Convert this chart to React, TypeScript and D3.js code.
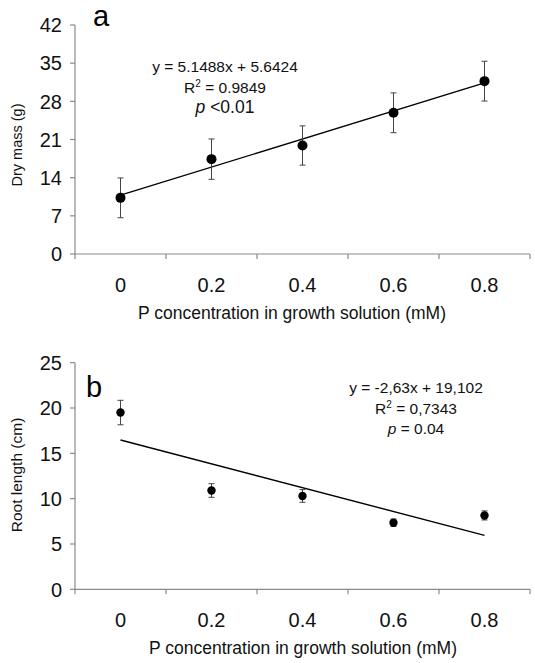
import React from "react";
import * as d3 from "d3";

const categories = ["0", "0.2", "0.4", "0.6", "0.8"];
const dryMass = [10.3, 17.4, 19.9, 25.9, 31.7];
const dryMassErr = [3.65, 3.7, 3.6, 3.65, 3.65];
const rootLength = [19.5, 10.9, 10.3, 7.35, 8.15];
const rootLengthErr = [1.35, 0.75, 0.7, 0.4, 0.5];
const yTicksA = [0, 7, 14, 21, 28, 35, 42];
const yTicksB = [0, 5, 10, 15, 20, 25];
const fitA = { slope: 5.1488, intercept: 5.6424 };
const fitB = { slope: -2.63, intercept: 19.102 };

const FONT = "'Liberation Sans', Arial, sans-serif";
const AXIS = "#8a8a8a";

type PanelProps = {
  label: string;
  values: number[];
  errs: number[];
  yTicks: number[];
  yMax: number;
  top: number;
  bottom: number;
  fit: { slope: number; intercept: number };
  yTitle: string;
  yTitleY: number;
  yTitleSize: number;
  xTitleX: number;
  eqX: number;
  eqY: number;
  eqLines: [string, string, string];
  labelX: number;
  labelY: number;
  r: number;
  pSep: string;
  pSize: number;
};

function Panel(p: PanelProps) {
  const x = d3.scaleBand<string>().domain(categories).range([75, 530]).padding(0);
  const cx = (c: string) => (x(c) as number) + x.bandwidth() / 2;
  const y = d3.scaleLinear().domain([0, p.yMax]).range([p.bottom, p.top]);
  const boundaries = [...categories.map((c) => x(c) as number), 530];
  const line = d3
    .line<number>()
    .x((i) => cx(categories[i]))
    .y((i) => y(p.fit.slope * (i + 1) + p.fit.intercept));
  const idx = [0, categories.length - 1];
  return (
    <g fontFamily={FONT}>
      <line x1={75} x2={75} y1={p.top} y2={p.bottom} stroke={AXIS} strokeWidth={1.2} />
      {p.yTicks.map((t) => (
        <g key={t}>
          <line x1={70} x2={75} y1={y(t)} y2={y(t)} stroke={AXIS} strokeWidth={1.2} />
          <text x={62} y={y(t)} dy="0.36em" textAnchor="end" fontSize={20} fill="#111">
            {t}
          </text>
        </g>
      ))}
      <line x1={75} x2={530} y1={p.bottom} y2={p.bottom} stroke={AXIS} strokeWidth={1.2} />
      {boundaries.map((b, i) => (
        <line key={i} x1={b} x2={b} y1={p.bottom} y2={p.bottom + 5} stroke={AXIS} strokeWidth={1.2} />
      ))}
      {categories.map((c) => (
        <text key={c} x={cx(c)} y={p.bottom + 38} textAnchor="middle" fontSize={20} fill="#111">
          {c}
        </text>
      ))}
      <text x={p.xTitleX} y={p.bottom + 65} textAnchor="middle" fontSize={17.5} fill="#111">
        P concentration in growth solution (mM)
      </text>
      <text
        transform={`translate(22,${p.yTitleY}) rotate(-90)`}
        textAnchor="middle"
        fontSize={p.yTitleSize}
        fill="#111"
      >
        {p.yTitle}
      </text>
      <text x={p.labelX} y={p.labelY} fontSize={29} fill="#000">
        {p.label}
      </text>
      <path d={line(idx) as string} fill="none" stroke="#000" strokeWidth={1.4} />
      {categories.map((c, i) => {
        const xx = cx(c);
        const y1 = y(p.values[i] + p.errs[i]);
        const y2 = y(p.values[i] - p.errs[i]);
        return (
          <g key={c} stroke="#444" strokeWidth={1}>
            <line x1={xx} x2={xx} y1={y1} y2={y2} />
            <line x1={xx - 3} x2={xx + 3} y1={y1} y2={y1} />
            <line x1={xx - 3} x2={xx + 3} y1={y2} y2={y2} />
          </g>
        );
      })}
      {categories.map((c, i) => (
        <circle key={c} cx={cx(c)} cy={y(p.values[i])} r={p.r} fill="#000" />
      ))}
      <g fontSize={15.5} fill="#111" textAnchor="middle">
        <text x={p.eqX} y={p.eqY}>{p.eqLines[0]}</text>
        <text x={p.eqX} y={p.eqY + 21}>
          R<tspan fontSize={10} dy={-6}>2</tspan>
          <tspan dy={6}>{" = " + p.eqLines[1]}</tspan>
        </text>
        <text x={p.eqX} y={p.eqY + 41} fontSize={p.pSize}>
          <tspan fontStyle="italic">p</tspan>
          {p.pSep + p.eqLines[2]}
        </text>
      </g>
    </g>
  );
}

export default function App() {
  return (
    <svg
      width={535}
      height={663}
      style={{ position: "absolute", left: 0, top: 0, background: "#fff" }}
    >
      <rect width={535} height={663} fill="#fff" />
      <Panel
        label="a"
        values={dryMass}
        errs={dryMassErr}
        yTicks={yTicksA}
        yMax={42}
        top={25}
        bottom={254}
        fit={fitA}
        yTitle="Dry mass (g)"
        yTitleY={145}
        yTitleSize={14.5}
        xTitleX={292}
        eqX={225}
        eqY={72}
        eqLines={["y = 5.1488x + 5.6424", "0.9849", "<0.01"]}
        labelX={93}
        labelY={26}
        r={5}
        pSep=" "
        pSize={17.5}
      />
      <Panel
        label="b"
        values={rootLength}
        errs={rootLengthErr}
        yTicks={yTicksB}
        yMax={25}
        top={362.7}
        bottom={589.3}
        fit={fitB}
        yTitle="Root length (cm)"
        yTitleY={475}
        yTitleSize={15.5}
        xTitleX={303}
        eqX={416}
        eqY={393}
        eqLines={["y = -2,63x + 19,102", "0,7343", "= 0.04"]}
        labelX={86}
        labelY={397}
        r={4.2}
        pSep=" "
        pSize={15.5}
      />
    </svg>
  );
}
